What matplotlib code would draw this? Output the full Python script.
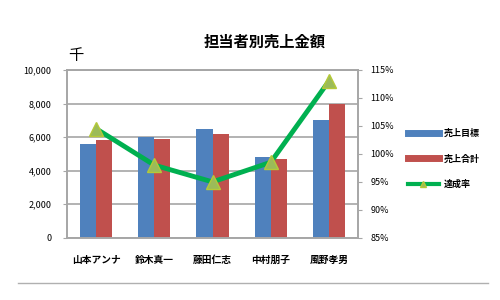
import numpy as np
import matplotlib
matplotlib.use("Agg")
import matplotlib.pyplot as plt
from matplotlib.lines import Line2D

plt.rcParams['font.family'] = ['Noto Sans CJK JP', 'DejaVu Sans']

names = ['山本アンナ', '鈴木真一', '藤田仁志', '中村朋子', '風野孝男']
target = [5600, 6000, 6500, 4800, 7000]
actual = [5850, 5900, 6200, 4700, 8000]
rate = [104.5, 98.0, 95.0, 98.5, 113.0]
left_ticks = [0, 2000, 4000, 6000, 8000, 10000]
right_ticks = [85, 90, 95, 100, 105, 110, 115]

blue = '#4F81BD'
red = '#C0504D'
green = '#00B050'
grid_col = '#A6A6A6'

fig = plt.figure(figsize=(5, 3), dpi=100)
ax = fig.add_axes([0.134, 0.207, 0.582, 0.56])

x = np.arange(len(names))
w = 0.275
ax.bar(x - w / 2, target, w, color=blue, label='売上目標', zorder=2)
ax.bar(x + w / 2, actual, w, color=red, label='売上合計', zorder=2)

ax.set_xlim(-0.5, len(names) - 0.5)
ax.set_ylim(0, 10000)
ax.set_yticks(left_ticks)
ax.set_yticklabels([f'{v:,}' for v in left_ticks], fontsize=6.5)
ax.set_xticks(x)
ax.set_xticklabels(names, fontsize=7, fontweight='bold')
ax.tick_params(axis='x', length=0, pad=12)
ax.tick_params(axis='y', length=3, color=grid_col, pad=8)
ax.yaxis.grid(True, color=grid_col, linewidth=1.2, zorder=0)
for s in ax.spines.values():
    s.set_color(grid_col)
    s.set_linewidth(1.2)

ax2 = ax.twinx()
ax2.plot(x, rate, color=green, linewidth=3.5, marker='^', markersize=10,
         markerfacecolor='#9BBB59', markeredgecolor='#B5C938',
         label='達成率', zorder=3)
ax2.set_ylim(85, 115)
ax2.set_yticks(right_ticks)
ax2.set_yticklabels([f'{v}%' for v in right_ticks], fontsize=6.5)
ax2.tick_params(axis='y', length=3, color=grid_col, pad=6)
for s in ax2.spines.values():
    s.set_color(grid_col)
    s.set_linewidth(1.2)

handles = [Line2D([0], [0], color=blue, linewidth=5),
           Line2D([0], [0], color=red, linewidth=5),
           Line2D([0], [0], color=green, linewidth=3, marker='^',
                  markersize=5, markerfacecolor='#9BBB59',
                  markeredgecolor='#B5C938')]
fig.legend(handles, ['売上目標', '売上合計', '達成率'],
           loc='center left', bbox_to_anchor=(0.8, 0.47),
           frameon=False, handlelength=3.4,
           labelspacing=1.8, handletextpad=0.5,
           prop={'weight': 'bold', 'size': 6.5})

fig.text(0.53, 0.86, '担当者別売上金額', ha='center', va='center',
         fontsize=11, fontweight='bold')
fig.text(0.152, 0.815, '千', ha='center', va='center', fontsize=11)

fig.add_artist(Line2D([0.036, 0.976], [0.057, 0.057],
                      color='#B0B0B0', linewidth=1))

fig.savefig('out.png', dpi=100)
